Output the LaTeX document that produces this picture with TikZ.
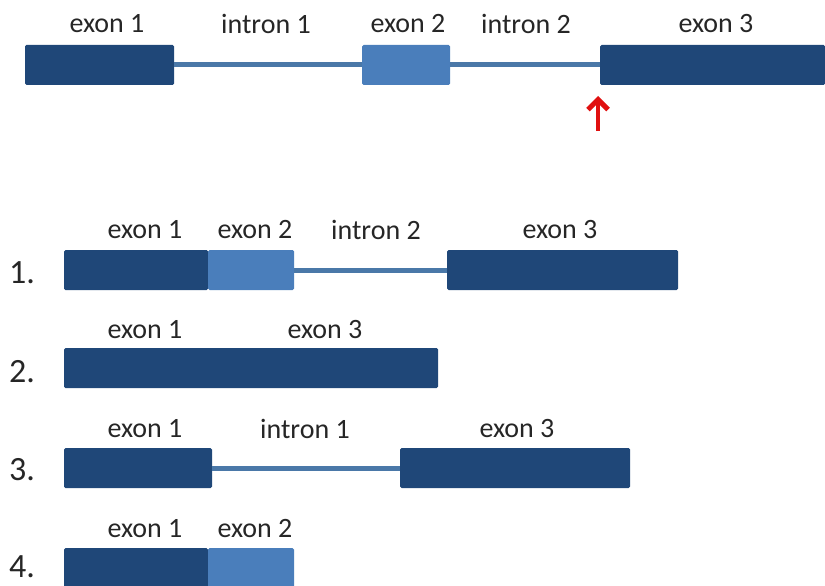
\documentclass[tikz,border=0pt]{standalone}
\usepackage{fontspec}
\setmainfont{Carlito}
\usetikzlibrary{arrows.meta}
\definecolor{exdark}{HTML}{1F4778}
\definecolor{exlight}{HTML}{4A7EBB}
\definecolor{intr}{HTML}{4A78A8}
\definecolor{arr}{HTML}{E01010}
\tikzset{
  exbox/.style={fill=exdark, draw=none, rounded corners=1.5pt, minimum height=40pt, inner sep=0pt, outer sep=0pt},
  exlt/.style={exbox, fill=exlight},
  intronline/.style={draw=intr, line width=5pt},
  lab/.style={font=\fontsize{28}{32}\selectfont, inner sep=0pt, text=black!85},
  num/.style={font=\fontsize{34}{38}\selectfont, inner sep=0pt, text=black!85},
}
\begin{document}
\begin{tikzpicture}[x=1pt,y=-1pt]
\useasboundingbox (0,0) rectangle (825,586);
% top row
\node[exbox, minimum width=149pt] (t1) at (99.5,65) {};
\node[exlt, minimum width=88pt] (t2) at (406,65) {};
\node[exbox, minimum width=225pt] (t3) at (712.5,65) {};
\draw[intronline] (t1.east) -- (t2.west);
\draw[intronline] (t2.east) -- (t3.west);
\node[lab] (lt1) at (107,24) {exon 1};
\node[lab] (lt2) at (266,24) {intron 1};
\node[lab] (lt3) at (408,24) {exon 2};
\node[lab] (lt4) at (526,24) {intron 2};
\node[lab] (lt5) at (716,24) {exon 3};
\coordinate (abot) at (598,131);
\coordinate (atop) at (598,96);
\draw[arr, line width=4.5pt, -{Straight Barb[length=10pt,width=20pt,line width=5pt]}] (abot) -- (atop);
% row 1
\node[num] (n1) at (22,273) {1.};
\node[exbox, minimum width=144pt] (a1) at (136,270) {};
\node[exlt, minimum width=86pt] (a2) at (251,270) {};
\node[exbox, minimum width=231pt] (a3) at (562.5,270) {};
\draw[intronline] (a2.east) -- (a3.west);
\node[lab] (la1) at (145,230) {exon 1};
\node[lab] (la2) at (255,230) {exon 2};
\node[lab] (la3) at (376,230) {intron 2};
\node[lab] (la4) at (560,230) {exon 3};
% row 2
\node[num] (n2) at (22,372) {2.};
\node[exbox, minimum width=374pt] (b1) at (251,368) {};
\node[lab] (lb1) at (145,330) {exon 1};
\node[lab] (lb2) at (325,330) {exon 3};
% row 3
\node[num] (n3) at (22,470) {3.};
\node[exbox, minimum width=148pt] (c1) at (138,468) {};
\node[exbox, minimum width=230pt] (c3) at (515,468) {};
\draw[intronline] (c1.east) -- (c3.west);
\node[lab] (lc1) at (145,429) {exon 1};
\node[lab] (lc2) at (305,429) {intron 1};
\node[lab] (lc3) at (517,429) {exon 3};
% row 4
\node[num] (n4) at (22,567) {4.};
\node[exbox, minimum width=144pt] (d1) at (136,568) {};
\node[exlt, minimum width=86pt] (d2) at (251,568) {};
\node[lab] (ld1) at (145,529) {exon 1};
\node[lab] (ld2) at (255,529) {exon 2};
\end{tikzpicture}
\end{document}
